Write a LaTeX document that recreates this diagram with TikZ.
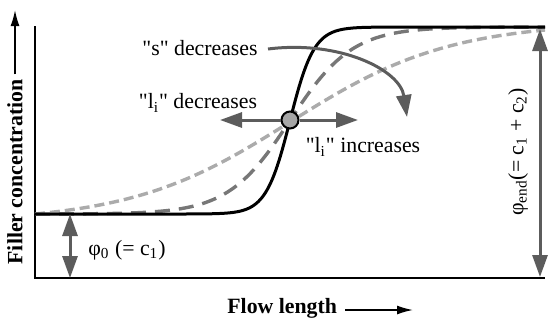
\documentclass[tikz,border=0pt]{standalone}
\usepackage{fontspec}
\setmainfont{Liberation Serif}[Ligatures=TeXOff]
\usepackage{tikz}
\usetikzlibrary{positioning,arrows.meta,calc}
\definecolor{arrowgray}{HTML}{5C5C5C}
\definecolor{midgray}{HTML}{777777}
\definecolor{lightgray}{HTML}{ABABAB}
\definecolor{dotgray}{HTML}{A6A6A6}

\tikzset{
  declare function={sig(\x,\w)=1/(1+exp(-max(-9,min(9,(\x-290)/\w))));},
  axisline/.style={line width=1pt, black},
  labelarrow/.style={line width=0.8pt, -{Latex[length=8pt,width=4.5pt]}},
  trendarrow/.style={line width=1.5pt, arrowgray, -{Triangle[length=11pt,width=7.5pt]}},
  levelarrow/.style={line width=1.5pt, arrowgray, {Triangle[length=11pt,width=7.5pt]}-{Triangle[length=11pt,width=7.5pt]}},
  lbl/.style={font=\fontsize{10.9}{13}\selectfont, inner sep=0pt},
  axislbl/.style={font=\fontsize{10.9}{13}\selectfont\bfseries, inner sep=0pt}
}

\begin{document}
\begin{tikzpicture}[x=0.5pt, y=-0.5pt]
  \useasboundingbox (0,0) rectangle (550,322);
  % Niveles: bajo y=214, alto y=27 (pixeles)
  \def\Lo{214} \def\Hi{27}

  % Ejes
  \draw[axisline] (35,26) -- (35,278) -- (545,278);

  % Perfiles discontinuos (s grande -> curva suave)
  \foreach \w/\col/\pat/\top in {80/lightgray/{on 5pt off 2.5pt}/30, 31/midgray/{on 7.5pt off 4.5pt}/27}{
    \draw[line width=1.7pt, \col, dash pattern/.expanded=\pat]
      plot[domain=35:545, samples=150]
      (\x, {\Lo-(\Lo-\top)*(sig(\x,\w)-sig(35,\w))/(sig(545,\w)-sig(35,\w))});
  }

  % Perfil escalonado
  \draw[line width=1.5pt, black]
    plot[domain=35:545, samples=300]
    (\x, {\Lo-(\Lo-\Hi)*(sig(\x,12)-sig(35,12))/(sig(545,12)-sig(35,12))});

  % Punto de inflexion
  \node[circle, draw=black, line width=1pt, fill=dotgray, minimum size=8.5pt, inner sep=0pt] (infl) at (290,120) {};

  % Flechas de tendencia
  \coordinate (decTip) at (220,120);
  \coordinate (incTip) at (358,120);
  \draw[trendarrow] (infl) -- (decTip);
  \draw[trendarrow] (infl) -- (incTip);

  \coordinate (sStart) at (268,49);
  \coordinate (sTip) at (407,117);
  \draw[trendarrow] (sStart) .. controls (340,40) and (400,70) .. (sTip);

  \node[lbl] (sDec) at (200,48) {"s" decreases};
  \node[lbl] (liDec) at (198,103) {"l\textsubscript{i}" decreases};
  \node[lbl] (liInc) at (363,147) {"l\textsubscript{i}" increases};

  % Concentraciones inicial y final
  \coordinate (loTop) at (70,214);
  \coordinate (loBot) at (70,278);
  \draw[levelarrow] (loTop) -- (loBot);
  \node[lbl, anchor=west] (phiLo) at (88,250) {φ\textsubscript{0} (= c\textsubscript{1})};

  \coordinate (hiTop) at (540,29);
  \coordinate (hiBot) at (540,277);
  \draw[levelarrow] (hiTop) -- (hiBot);
  \node[lbl, rotate=90] (phiEnd) at (518,152) {φ\textsubscript{end}(= c\textsubscript{1} + c\textsubscript{2})};

  % Titulos de ejes
  \node[axislbl, rotate=90] (yLbl) at (15,172) {Filler concentration};
  \coordinate (yTip) at (15,10);
  \draw[labelarrow] ($(yLbl.east)+(0,-5)$) -- (yTip);

  \node[axislbl, anchor=base west] (xLbl) at (227,313) {Flow length};
  \coordinate (xTail) at (345,310);
  \coordinate (xTip) at (413,310);
  \draw[labelarrow] (xTail) -- (xTip);
\end{tikzpicture}
\end{document}
